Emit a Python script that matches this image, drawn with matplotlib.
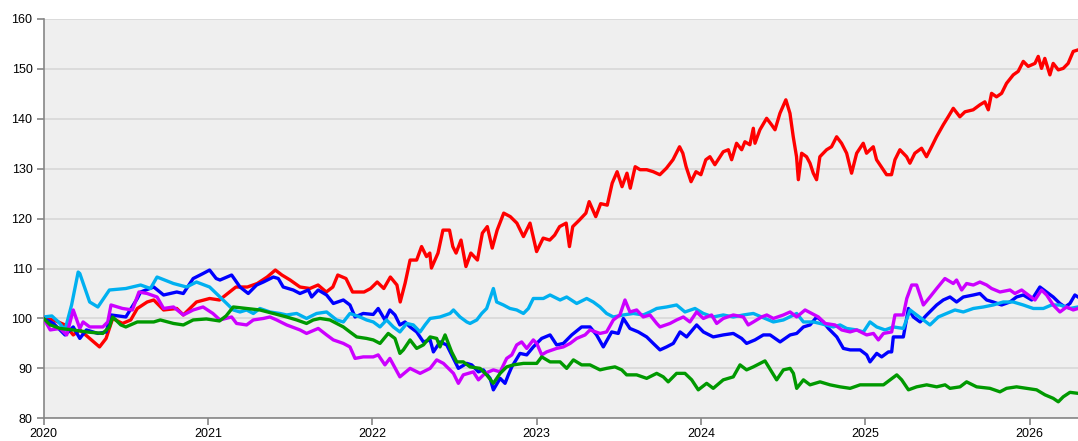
import matplotlib
matplotlib.use('Agg')
import matplotlib.pyplot as plt

# 五条指数走势（以 2020 年初为 100），横轴为小数年份
red_t = [2020.0, 2020.06, 2020.13, 2020.18, 2020.22, 2020.28, 2020.34, 2020.38, 2020.42, 2020.48,
         2020.53, 2020.57, 2020.63, 2020.67, 2020.73, 2020.81, 2020.85, 2020.93, 2021.01, 2021.07,
         2021.17, 2021.24, 2021.30, 2021.36, 2021.41, 2021.45, 2021.50, 2021.56, 2021.62, 2021.67,
         2021.72, 2021.76, 2021.79, 2021.84, 2021.88, 2021.95, 2021.99, 2022.03, 2022.07, 2022.11,
         2022.15, 2022.17, 2022.20, 2022.23, 2022.27, 2022.30, 2022.33, 2022.35, 2022.36, 2022.40,
         2022.43, 2022.47, 2022.49, 2022.51, 2022.54, 2022.57, 2022.60, 2022.64, 2022.67, 2022.70,
         2022.73, 2022.76, 2022.80, 2022.84, 2022.88, 2022.92, 2022.96, 2023.00, 2023.04, 2023.08,
         2023.11, 2023.14, 2023.18, 2023.20, 2023.22, 2023.26, 2023.30, 2023.32, 2023.36, 2023.39,
         2023.43, 2023.46, 2023.49, 2023.52, 2023.55, 2023.57, 2023.60, 2023.63, 2023.67, 2023.71,
         2023.75, 2023.79, 2023.83, 2023.87, 2023.89, 2023.91, 2023.94, 2023.97, 2024.00, 2024.03,
         2024.055, 2024.085, 2024.136, 2024.167, 2024.187, 2024.217, 2024.248, 2024.268, 2024.298, 2024.319,
         2024.329, 2024.359, 2024.400, 2024.430, 2024.451, 2024.481, 2024.517, 2024.542, 2024.562, 2024.582,
         2024.593, 2024.613, 2024.643, 2024.664, 2024.684, 2024.704, 2024.724, 2024.765, 2024.795, 2024.826,
         2024.856, 2024.887, 2024.917, 2024.948, 2024.988, 2025.008, 2025.049, 2025.069, 2025.110, 2025.130,
         2025.160, 2025.181, 2025.211, 2025.252, 2025.272, 2025.302, 2025.343, 2025.373, 2025.404, 2025.434,
         2025.475, 2025.505, 2025.536, 2025.576, 2025.607, 2025.657, 2025.698, 2025.728, 2025.749, 2025.769,
         2025.799, 2025.830, 2025.860, 2025.901, 2025.931, 2025.962, 2025.992, 2026.033, 2026.053, 2026.073,
         2026.093, 2026.124, 2026.144, 2026.175, 2026.205, 2026.235, 2026.266, 2026.295]
red_v = [100, 99.7, 98.7, 96.7, 97.7, 96, 94.3, 96, 100, 99,
         99.7, 102, 103.3, 103.7, 101.7, 102, 100.7, 103.3, 104, 103.7,
         106.3, 106.3, 107, 108.3, 109.7, 108.7, 107.7, 106.3, 106, 106.7,
         105.3, 106.3, 108.7, 108, 105.3, 105.3, 106, 107.3, 106, 108.3,
         106.7, 103.3, 107.1, 111.7, 111.7, 114.4, 112.4, 113.1, 110.1, 113.1,
         117.7, 117.7, 114.4, 113.1, 115.7, 110.4, 113.1, 111.7, 117.1, 118.4,
         114.1, 117.7, 121.1, 120.4, 119.1, 116.4, 119.1, 113.4, 116.1, 115.7,
         116.7, 118.4, 119.1, 114.4, 118.4, 119.7, 121.1, 123.4, 120.4, 123,
         122.7, 127.1, 129.4, 126.4, 129.1, 126.1, 130.4, 129.8, 129.8, 129.4,
         128.8, 130.1, 131.8, 134.4, 133.1, 130.4, 127.4, 129.4, 128.8, 131.8,
         132.4, 130.8, 133.4, 133.8, 131.8, 135.1, 133.8, 135.4, 134.8, 138.1,
         135.1, 137.8, 140.1, 138.8, 137.8, 141.1, 143.8, 141.1, 136.4, 132.4,
         127.8, 133.1, 132.4, 131.1, 129.1, 127.8, 132.4, 133.8, 134.4, 136.4,
         135.1, 133.1, 129.1, 133.1, 135.1, 133.1, 134.4, 131.8, 129.8, 128.8,
         128.8, 131.8, 133.8, 132.4, 131.1, 133.1, 134.1, 132.4, 134.4, 136.4,
         138.8, 140.4, 142.1, 140.4, 141.4, 141.8, 142.8, 143.4, 141.8, 145.1,
         144.4, 145.1, 147.1, 148.8, 149.5, 151.5, 150.5, 151.1, 152.5, 150.1,
         152.1, 148.8, 151.1, 149.8, 150.1, 151.1, 153.5, 153.8]

blue_t = [2020.0, 2020.06, 2020.13, 2020.18, 2020.22, 2020.26, 2020.33, 2020.38, 2020.41, 2020.50,
          2020.57, 2020.59, 2020.67, 2020.73, 2020.81, 2020.85, 2020.91, 2020.97, 2021.01, 2021.05,
          2021.073, 2021.144, 2021.195, 2021.245, 2021.296, 2021.337, 2021.398, 2021.428, 2021.458, 2021.519,
          2021.560, 2021.611, 2021.631, 2021.671, 2021.722, 2021.763, 2021.824, 2021.864, 2021.895, 2021.945,
          2022.006, 2022.036, 2022.077, 2022.107, 2022.138, 2022.168, 2022.199, 2022.230, 2022.270, 2022.311,
          2022.352, 2022.372, 2022.412, 2022.453, 2022.494, 2022.524, 2022.575, 2022.605, 2022.646, 2022.676,
          2022.717, 2022.737, 2022.778, 2022.808, 2022.828, 2022.849, 2022.899, 2022.940, 2022.980, 2023.031,
          2023.082, 2023.122, 2023.163, 2023.214, 2023.274, 2023.325, 2023.365, 2023.406, 2023.457, 2023.497,
          2023.528, 2023.568, 2023.619, 2023.670, 2023.710, 2023.751, 2023.791, 2023.832, 2023.873, 2023.913,
          2023.974, 2024.015, 2024.075, 2024.136, 2024.197, 2024.248, 2024.278, 2024.329, 2024.380, 2024.421,
          2024.482, 2024.543, 2024.583, 2024.624, 2024.664, 2024.705, 2024.745, 2024.776, 2024.827, 2024.867,
          2024.908, 2024.969, 2025.009, 2025.029, 2025.070, 2025.100, 2025.141, 2025.161, 2025.171, 2025.232,
          2025.263, 2025.293, 2025.334, 2025.374, 2025.435, 2025.475, 2025.516, 2025.556, 2025.597, 2025.658,
          2025.698, 2025.739, 2025.779, 2025.830, 2025.881, 2025.921, 2025.962, 2026.013, 2026.063, 2026.104,
          2026.144, 2026.185, 2026.216, 2026.246, 2026.276, 2026.295]
blue_v = [100, 99, 96.7, 98.3, 96, 97.7, 97, 97.3, 100.7, 100.3,
          104, 105.3, 106.3, 104.7, 105.3, 105, 108, 109, 109.7, 108,
          107.7, 108.7, 106.3, 105, 106.7, 107.3, 108.3, 108, 106.3, 105.7,
          105, 105.7, 104.3, 105.7, 104.7, 103, 103.7, 102.7, 100.3, 101,
          100.8, 102, 99.7, 101.7, 100.7, 98.7, 99.3, 98.3, 97.3, 95.3,
          95.7, 93.3, 95.3, 94.7, 92, 90, 91, 90.7, 89.3, 89.7,
          88, 85.7, 88, 87, 88.7, 90.3, 93, 92.7, 94.3, 96,
          96.7, 94.7, 95, 96.7, 98.3, 98.3, 96.7, 94.3, 97.3, 97,
          100, 98, 97.3, 96.3, 95, 93.7, 94.3, 95, 97.3, 96.3,
          98.7, 97.3, 96.3, 96.7, 97, 96, 95, 95.7, 96.7, 96.7,
          95.3, 96.7, 97, 98.3, 98.7, 100.3, 99.3, 98, 96.3, 94,
          93.7, 93.7, 92.7, 91.3, 93, 92.3, 93.3, 93.3, 96.3, 96.3,
          102, 100.3, 99.3, 100.7, 102.7, 103.7, 104.3, 103.3, 104.3, 104.7,
          105, 103.7, 103.3, 102.7, 103.3, 104.3, 104.7, 103.7, 106.3, 105.3,
          104.3, 103, 102.3, 103, 104.7, 104.3]

cyan_t = [2020.0, 2020.05, 2020.09, 2020.13, 2020.17, 2020.21, 2020.22, 2020.28, 2020.33, 2020.40,
          2020.50, 2020.59, 2020.65, 2020.69, 2020.79, 2020.87, 2020.93, 2021.01, 2021.073, 2021.114,
          2021.154, 2021.195, 2021.235, 2021.276, 2021.316, 2021.377, 2021.438, 2021.479, 2021.540, 2021.600,
          2021.661, 2021.722, 2021.783, 2021.824, 2021.864, 2021.925, 2021.965, 2022.006, 2022.047, 2022.087,
          2022.128, 2022.168, 2022.210, 2022.250, 2022.291, 2022.321, 2022.352, 2022.412, 2022.473, 2022.494,
          2022.534, 2022.575, 2022.595, 2022.636, 2022.666, 2022.696, 2022.737, 2022.757, 2022.798, 2022.838,
          2022.879, 2022.920, 2022.950, 2022.980, 2023.041, 2023.082, 2023.143, 2023.183, 2023.244, 2023.305,
          2023.345, 2023.386, 2023.426, 2023.467, 2023.528, 2023.589, 2023.649, 2023.690, 2023.731, 2023.791,
          2023.852, 2023.903, 2023.964, 2024.015, 2024.075, 2024.136, 2024.197, 2024.258, 2024.319, 2024.369,
          2024.441, 2024.502, 2024.583, 2024.624, 2024.685, 2024.725, 2024.806, 2024.847, 2024.887, 2024.948,
          2024.989, 2025.029, 2025.070, 2025.121, 2025.171, 2025.232, 2025.273, 2025.313, 2025.354, 2025.394,
          2025.445, 2025.495, 2025.546, 2025.597, 2025.658, 2025.719, 2025.779, 2025.840, 2025.901, 2025.962,
          2026.023, 2026.084, 2026.134, 2026.185, 2026.246, 2026.295]
cyan_v = [100.3, 100.5, 99.3, 97.7, 102.7, 109.3, 109, 103.3, 102.3, 105.7,
          106, 106.7, 106, 108.3, 107, 106.3, 107.3, 106.3, 104.3, 103,
          101.7, 101.3, 101.7, 101, 102, 101.3, 101, 100.7, 101, 100,
          101, 101.3, 99.7, 99.3, 101, 100.3, 99.7, 99.3, 98.3, 99.7,
          98.3, 97.3, 99, 98.7, 97.3, 98.7, 100, 100.3, 101, 101.7,
          100.3, 99.3, 99, 99.7, 101, 102, 106, 103.3, 102.7, 102,
          101.7, 101, 102, 104, 104, 104.7, 103.7, 104.3, 103, 104,
          103.3, 102.3, 101, 100.3, 100.7, 101, 100.7, 101.3, 102, 102.3,
          102.7, 101.3, 102, 101, 100.3, 100.7, 100.3, 100.7, 101, 100.3,
          99.3, 99.7, 101, 99.3, 99.3, 99, 98.3, 98.7, 98, 97.7,
          97.3, 99.3, 98.3, 97.7, 98.3, 98, 101.7, 100.7, 99.7, 98.7,
          100.3, 101, 101.7, 101.3, 102, 102.3, 102.7, 103.3, 103.3, 102.7,
          102, 102, 102.7, 102.7, 102, 102.3]

magenta_t = [2020.0, 2020.04, 2020.10, 2020.14, 2020.18, 2020.22, 2020.24, 2020.28, 2020.36, 2020.39,
             2020.41, 2020.48, 2020.54, 2020.58, 2020.63, 2020.69, 2020.73, 2020.79, 2020.85, 2020.91,
             2020.97, 2021.03, 2021.073, 2021.144, 2021.174, 2021.235, 2021.276, 2021.337, 2021.377, 2021.418,
             2021.479, 2021.560, 2021.600, 2021.671, 2021.722, 2021.763, 2021.824, 2021.864, 2021.895, 2021.945,
             2022.006, 2022.036, 2022.077, 2022.107, 2022.168, 2022.230, 2022.291, 2022.352, 2022.392, 2022.433,
             2022.494, 2022.524, 2022.554, 2022.615, 2022.646, 2022.686, 2022.737, 2022.778, 2022.818, 2022.849,
             2022.879, 2022.909, 2022.940, 2022.980, 2023.001, 2023.031, 2023.061, 2023.122, 2023.163, 2023.204,
             2023.244, 2023.295, 2023.325, 2023.386, 2023.426, 2023.467, 2023.507, 2023.538, 2023.568, 2023.609,
             2023.649, 2023.690, 2023.731, 2023.751, 2023.812, 2023.852, 2023.893, 2023.933, 2023.974, 2024.015,
             2024.065, 2024.096, 2024.136, 2024.197, 2024.258, 2024.288, 2024.319, 2024.369, 2024.401, 2024.441,
             2024.502, 2024.543, 2024.583, 2024.634, 2024.674, 2024.715, 2024.756, 2024.816, 2024.857, 2024.908,
             2024.948, 2025.009, 2025.050, 2025.080, 2025.111, 2025.161, 2025.181, 2025.232, 2025.253, 2025.283,
             2025.313, 2025.354, 2025.394, 2025.435, 2025.485, 2025.536, 2025.556, 2025.587, 2025.617, 2025.658,
             2025.698, 2025.739, 2025.769, 2025.820, 2025.881, 2025.911, 2025.952, 2025.992, 2026.033, 2026.073,
             2026.104, 2026.144, 2026.185, 2026.226, 2026.266, 2026.295]
magenta_v = [100, 97.7, 98, 96.7, 101.7, 98, 99.3, 98.3, 98.3, 99.3,
             102.7, 102, 101.7, 105.3, 105, 104.3, 102, 102.3, 100.7, 101.7,
             102.3, 101, 99.7, 100.3, 99, 98.7, 99.7, 100, 100.3, 99.7,
             98.7, 97.7, 97, 98, 96.7, 95.7, 95, 94.3, 92, 92.3,
             92.3, 92.7, 90.7, 92, 88.3, 90, 89, 90, 91.7, 91,
             89, 87, 88.7, 89.3, 87.7, 89, 89.7, 89.3, 92, 92.7,
             94.7, 95.3, 94, 95.7, 95, 92.7, 93.3, 94, 94.3, 95,
             96, 96.7, 97.7, 97, 97.3, 99.7, 100.7, 103.7, 101.3, 101.7,
             100.3, 100.7, 99, 98.3, 99, 99.7, 100.3, 99.3, 101.3, 100,
             100.7, 99, 100, 100.7, 100.3, 98.7, 99.3, 100.3, 100.7, 100,
             100.7, 101.3, 100.3, 101.7, 101, 100.3, 99, 98.7, 97.7, 97.3,
             97.7, 96.7, 97, 95.7, 97, 97.3, 100.7, 100.7, 104, 106.7,
             106.7, 102.7, 104.3, 106, 108, 107, 107.7, 105.7, 107, 106.7,
             107.3, 106.7, 106, 105.3, 105.7, 105, 105.7, 104.7, 103.7, 105.7,
             104.7, 102.7, 101.3, 102.3, 101.7, 102]

green_t = [2020.0, 2020.04, 2020.10, 2020.18, 2020.26, 2020.36, 2020.40, 2020.42, 2020.47, 2020.50,
           2020.57, 2020.67, 2020.71, 2020.79, 2020.85, 2020.91, 2020.99, 2021.07, 2021.11, 2021.154,
           2021.235, 2021.316, 2021.398, 2021.479, 2021.540, 2021.600, 2021.641, 2021.682, 2021.742, 2021.783,
           2021.824, 2021.864, 2021.905, 2021.965, 2022.006, 2022.047, 2022.097, 2022.138, 2022.168, 2022.189,
           2022.230, 2022.270, 2022.311, 2022.352, 2022.392, 2022.412, 2022.443, 2022.483, 2022.514, 2022.554,
           2022.595, 2022.656, 2022.696, 2022.737, 2022.778, 2022.818, 2022.859, 2022.920, 2023.001, 2023.031,
           2023.082, 2023.143, 2023.183, 2023.224, 2023.274, 2023.325, 2023.386, 2023.426, 2023.477, 2023.518,
           2023.548, 2023.609, 2023.670, 2023.731, 2023.771, 2023.801, 2023.852, 2023.903, 2023.944, 2023.984,
           2024.035, 2024.075, 2024.136, 2024.197, 2024.238, 2024.278, 2024.319, 2024.390, 2024.431, 2024.461,
           2024.502, 2024.543, 2024.563, 2024.583, 2024.624, 2024.664, 2024.725, 2024.786, 2024.847, 2024.908,
           2024.969, 2025.050, 2025.111, 2025.192, 2025.222, 2025.263, 2025.313, 2025.374, 2025.435, 2025.486,
           2025.516, 2025.577, 2025.617, 2025.678, 2025.759, 2025.820, 2025.860, 2025.921, 2025.982, 2026.043,
           2026.094, 2026.144, 2026.175, 2026.205, 2026.246, 2026.295]
green_v = [100, 98.7, 98, 97.7, 97.3, 97, 98.3, 100.3, 98.7, 98.3,
           99.3, 99.3, 99.7, 99, 98.7, 99.7, 99.9, 99.5, 100.5, 102.3,
           102, 101.7, 101, 100.3, 99.7, 99, 99.7, 100, 99.7, 99,
           98.3, 97.3, 96.3, 96, 95.7, 95, 97, 96, 93, 93.7,
           95.7, 94, 94.7, 96.3, 96, 94.3, 96.7, 93.3, 91.3, 91.3,
           90.3, 90, 88.7, 87, 89, 90.3, 90.7, 91, 91, 92.3,
           91.3, 91.3, 90, 91.7, 90.7, 90.7, 89.7, 90, 90.3, 89.7,
           88.7, 88.7, 88, 89, 88.3, 87.3, 89, 89, 87.7, 85.7,
           87, 86, 87.7, 88.3, 90.7, 89.7, 90.3, 91.5, 89.3, 87.7,
           89.7, 90, 89, 86, 87.7, 86.7, 87.3, 86.7, 86.3, 86,
           86.7, 86.7, 86.7, 88.7, 87.7, 85.7, 86.3, 86.7, 86.3, 86.7,
           86, 86.3, 87.3, 86.3, 86, 85.3, 86, 86.3, 86, 85.7,
           84.7, 84, 83.3, 84.3, 85.2, 85]

year_ticks = [2020, 2021, 2022, 2023, 2024, 2025, 2026]
value_ticks = [80, 90, 100, 110, 120, 130, 140, 150, 160]

plt.rcParams['font.family'] = ['Liberation Sans', 'DejaVu Sans']

fig = plt.figure(figsize=(10.78, 4.41), dpi=100)
ax = fig.add_axes([0.0405, 0.0515, 0.9595, 0.9055])
ax.set_facecolor('#efefef')

lw = 2.4
ax.plot(red_t, red_v, color='#ff0000', lw=lw, zorder=3)
ax.plot(blue_t, blue_v, color='#0000ff', lw=lw, zorder=3)
ax.plot(cyan_t, cyan_v, color='#00b0f0', lw=lw, zorder=3)
ax.plot(magenta_t, magenta_v, color='#cc00ff', lw=lw, zorder=3)
ax.plot(green_t, green_v, color='#009900', lw=lw, zorder=3)

ax.set_xlim(2020, 2026.295)
ax.set_ylim(80, 160)
ax.set_xticks(year_ticks)
ax.set_xticklabels([str(y) for y in year_ticks])
ax.set_yticks(value_ticks)

ax.grid(axis='y', color='#d9d9d9', lw=1.3, zorder=0)
ax.set_axisbelow(True)
for s in ['top', 'right']:
    ax.spines[s].set_visible(False)
for s in ['left', 'bottom']:
    ax.spines[s].set_color('#868686')
    ax.spines[s].set_linewidth(1.2)
ax.tick_params(axis='both', colors='#868686', labelcolor='#000000', labelsize=9,
               length=5, width=1.2)
ax.tick_params(axis='y', pad=3)
ax.tick_params(axis='x', pad=2)

plt.savefig('out.png', dpi=100)
